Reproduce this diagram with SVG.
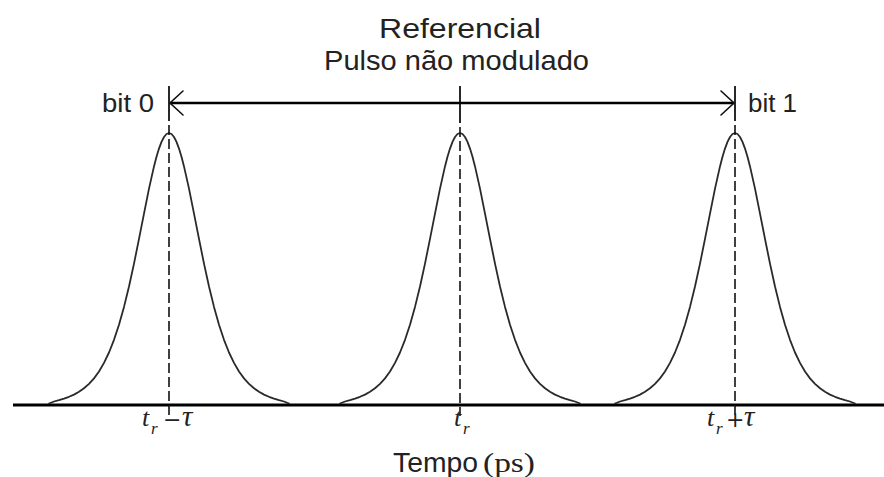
<svg xmlns="http://www.w3.org/2000/svg" xmlns:xlink="http://www.w3.org/1999/xlink" width="884" height="477" viewBox="0 0 884 477">
<style>
.sans{font-family:"Liberation Sans",Arial,sans-serif;fill:#222;}
.math{font-family:"Liberation Serif","Times New Roman",serif;font-style:italic;fill:#222;font-size:26px;}
.tau{font-size:29px;}
.sub{font-size:17px;}
.op{font-family:"DejaVu Sans","Liberation Sans",sans-serif;font-style:normal;font-size:22px;fill:#222;}
.pulse{fill:none;stroke:#2a2a2a;stroke-width:1.8;stroke-linejoin:round;stroke-linecap:round;}
.dash{stroke:#111;stroke-width:1.6;stroke-dasharray:10 4;fill:none;}
.bar{stroke:#111;stroke-width:1.8;fill:none;}
.axis{stroke:#000;stroke-width:3;fill:none;}
.arrow{stroke:#000;stroke-width:2.5;fill:none;}
.head{stroke:#111;stroke-width:1.6;fill:none;stroke-linecap:round;}
</style>
<defs>
<path id="pulse" class="pulse" d="M-120,403.5 L-115,401.5 -110,400.2 -105,398.6 -100,396.8 -95,394.6 -90,391.8 -85,388.3 -80,383.9 -75,378.4 -70,371.5 -65,362.9 -60,352.5 -55,339.8 -50,324.7 -45,306.9 -40,286.5 -35,263.6 -30,238.9 -25,213.6 -20,188.6 -15,166.4 -12.5,156.8 -10,148.6 -7.5,141.9 -5,137 -2.5,134 0,133 2.5,134 5,137 7.5,141.9 10,148.6 12.5,156.8 15,166.4 20,188.6 25,213.6 30,238.9 35,263.6 40,286.5 45,306.9 50,324.7 55,339.8 60,352.5 65,362.9 70,371.5 75,378.4 80,383.9 85,388.3 90,391.8 95,394.6 100,396.8 105,398.6 110,400.2 115,401.5 120,403.5"/>
</defs>
<rect width="884" height="477" fill="#fff"/>
<g id="title">
<text class="sans" x="379" y="38" font-size="28" textLength="162" lengthAdjust="spacingAndGlyphs">Referencial</text>
<text class="sans" x="324" y="70" font-size="28" textLength="265" lengthAdjust="spacingAndGlyphs">Pulso não modulado</text>
</g>
<g id="axis">
<line class="axis" x1="13" y1="405" x2="884" y2="405"/>
<text class="sans" x="393" y="472" font-size="27" textLength="85" lengthAdjust="spacingAndGlyphs">Tempo</text>
<text x="483" y="472" font-family="Liberation Serif, serif" font-size="27" fill="#222" textLength="52" lengthAdjust="spacingAndGlyphs">(ps)</text>
</g>
<g id="pulse0">
<use xlink:href="#pulse" x="169"/>
<line class="bar" x1="169" y1="86" x2="169" y2="121"/>
<line class="dash" x1="169" y1="125" x2="169" y2="416"/>
<text class="sans" x="102" y="112" font-size="25" textLength="52" lengthAdjust="spacingAndGlyphs">bit 0</text>
<text class="math" x="142" y="426">t<tspan class="sub" x="151" y="434">r</tspan></text>
<text class="op" x="163" y="427">−</text>
<text class="math tau" x="182" y="426">τ</text>
</g>
<g id="pulse1">
<use xlink:href="#pulse" x="460"/>
<line class="bar" x1="460" y1="86" x2="460" y2="123"/>
<line class="dash" x1="460" y1="127" x2="460" y2="416"/>
<text class="math" x="454" y="426">t<tspan class="sub" x="463" y="434">r</tspan></text>
</g>
<g id="pulse2">
<use xlink:href="#pulse" x="735"/>
<line class="bar" x1="735" y1="86" x2="735" y2="121"/>
<line class="dash" x1="735" y1="125" x2="735" y2="416"/>
<text class="sans" x="748" y="112" font-size="25" textLength="49" lengthAdjust="spacingAndGlyphs">bit 1</text>
<text class="math" x="707" y="426">t<tspan class="sub" x="716" y="434">r</tspan></text>
<text class="op" x="726" y="427">+</text>
<text class="math tau" x="744" y="426">τ</text>
</g>
<g id="connectors">
<line class="arrow" x1="170" y1="103" x2="734" y2="103"/>
<polyline class="head" points="183,91 170,103 183,115"/>
<polyline class="head" points="721,91 734,103 721,115"/>
</g>
</svg>
